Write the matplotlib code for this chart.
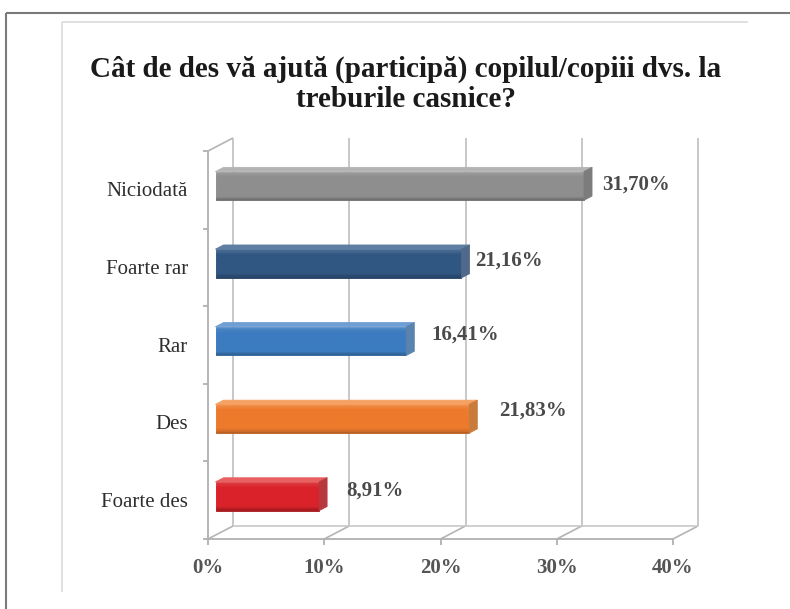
import numpy as np
import matplotlib.pyplot as plt
from matplotlib.patches import Polygon
from matplotlib.lines import Line2D
from matplotlib.colors import to_rgb
from matplotlib.transforms import IdentityTransform

# data
categories = ['Niciodată', 'Foarte rar', 'Rar', 'Des', 'Foarte des']
values = [31.70, 21.16, 16.41, 21.83, 8.91]
value_labels = ['31,70%', '21,16%', '16,41%', '21,83%', '8,91%']
x_ticks = [0, 10, 20, 30, 40]
x_tick_labels = ['0%', '10%', '20%', '30%', '40%']
title_lines = ['Cât de des vă ajută (participă) copilul/copiii dvs. la',
               'treburile casnice?']

# styling
face_colors = ['#8e8e8e', '#2f5682', '#3b7bbf', '#ed7a2b', '#d92128']
top_colors = ['#b4b4b4', '#5f7ea4', '#6f9ed3', '#f4a162', '#e8605f']
side_colors = ['#7c7c7c', '#50698a', '#5a83ad', '#c97b3c', '#b8393d']
label_gap_px = [10, 6, 17, 22, 19]
label_lift_px = [5.5, 7, 10, 12, 9.5]

W, H = 790, 609
DX, DY = 25, 13          # depth of the 3d box, pixels
T0, T1 = 0.30, 0.62      # bar front / back depth
BAR_H = 0.37
FONT = 'Liberation Serif'
ID = IdentityTransform()

fig = plt.figure(figsize=(W / 100, H / 100), dpi=100)
ax = fig.add_axes([208 / W, 70 / H, 465 / W, 388 / H])
ax.set_xlim(0, 40)
ax.set_ylim(0, len(categories))
ax.axis('off')


def pt(x, y, t=0.0):
    px, py = ax.transData.transform((x, y))
    return (px + t * DX, py + t * DY)


def line(p, q, color='#c8c8c8', lw=1.4, z=1):
    fig.add_artist(Line2D([p[0], q[0]], [p[1], q[1]], color=color, lw=lw,
                          transform=ID, zorder=z, solid_capstyle='butt'))


def poly(pts, color, z=3, ec=None):
    fig.add_artist(Polygon(pts, closed=True, fc=color, ec=ec or color, lw=0.6,
                           transform=ID, zorder=z, joinstyle='round'))


def mix(c, other, f):
    a, b = np.array(to_rgb(c)), np.array(to_rgb(other))
    return tuple(a * (1 - f) + b * f)


# outer frame of the picture
line((6, H - 13), (W, H - 13), color='#7a7a7a', lw=1.5)
line((6, H - 13), (6, 0), color='#7a7a7a', lw=1.5)
line((62, H - 22), (748, H - 22), color='#dadada', lw=1.2)
line((62, H - 22), (62, H - 592), color='#dadada', lw=1.2)

n = len(categories)
ymax = n

# back wall gridlines and floor
for x in x_ticks:
    line(pt(x, 0, 1), pt(x, ymax, 1))
    line(pt(x, 0, 0), pt(x, 0, 1), color='#b4b4b4', lw=1.2)
line(pt(0, 0, 1), pt(40, 0, 1), color='#c8c8c8', lw=1.2)
# left wall
line(pt(0, ymax, 0), pt(0, ymax, 1), color='#b4b4b4', lw=1.2)

# front axes
line(pt(0, 0), pt(40, 0), color='#b0b0b0', lw=1.3, z=5)
line(pt(0, 0), pt(0, ymax), color='#b0b0b0', lw=1.3, z=5)
for x, lab in zip(x_ticks, x_tick_labels):
    px, py = pt(x, 0)
    line((px, py), (px, py - 6), color='#b0b0b0', lw=1.3, z=5)
    fig.text(px, py - 29, lab, ha='center', va='center', fontsize=15,
             family=FONT, color='#555555', fontweight='bold', transform=ID)
for k in range(n + 1):
    px, py = pt(0, k)
    line((px - 5, py), (px, py), color='#b0b0b0', lw=1.3, z=5)

# bars
for i, (cat, v) in enumerate(zip(categories, values)):
    yc = n - 1 - i + 0.5
    y0, y1 = yc - BAR_H / 2, yc + BAR_H / 2
    # front face with a soft vertical gradient
    steps = 24
    for s in range(steps):
        fa, fb = s / steps, (s + 1) / steps
        ya = y1 - (y1 - y0) * fa
        yb = y1 - (y1 - y0) * fb
        f = (fa + fb) / 2
        if f < 0.18:
            c = mix(face_colors[i], '#ffffff', 0.15 * (1 - f / 0.18))
        elif f > 0.85:
            c = mix(face_colors[i], '#000000', 0.25 * (f - 0.85) / 0.15)
        else:
            c = to_rgb(face_colors[i])
        poly([pt(0, ya, T0), pt(v, ya, T0), pt(v, yb, T0), pt(0, yb, T0)], c, z=3)
    # top face
    poly([pt(0, y1, T0), pt(v, y1, T0), pt(v, y1, T1), pt(0, y1, T1)], top_colors[i], z=3)
    # end cap
    poly([pt(v, y0, T0), pt(v, y0, T1), pt(v, y1, T1), pt(v, y1, T0)], side_colors[i], z=3)

    # category label
    px, py = pt(0, yc)
    fig.text(px - 20, py - 2, cat, ha='right', va='center', fontsize=15,
             family=FONT, color='#2e2e2e', transform=ID)
    # value label
    ex, _ = pt(v, yc, T1)
    fig.text(ex + label_gap_px[i], py + label_lift_px[i], value_labels[i],
             ha='left', va='center', fontsize=15, family=FONT,
             color='#4a4a4a', fontweight='bold', transform=ID)

for k, (txt, base) in enumerate(zip(title_lines, [77, 107])):
    fig.text(406, H - base, txt, ha='center', va='baseline', fontsize=21,
             fontweight='bold', family=FONT, color='#1a1a1a', transform=ID)

fig.savefig('out.png', dpi=100, facecolor='white')
